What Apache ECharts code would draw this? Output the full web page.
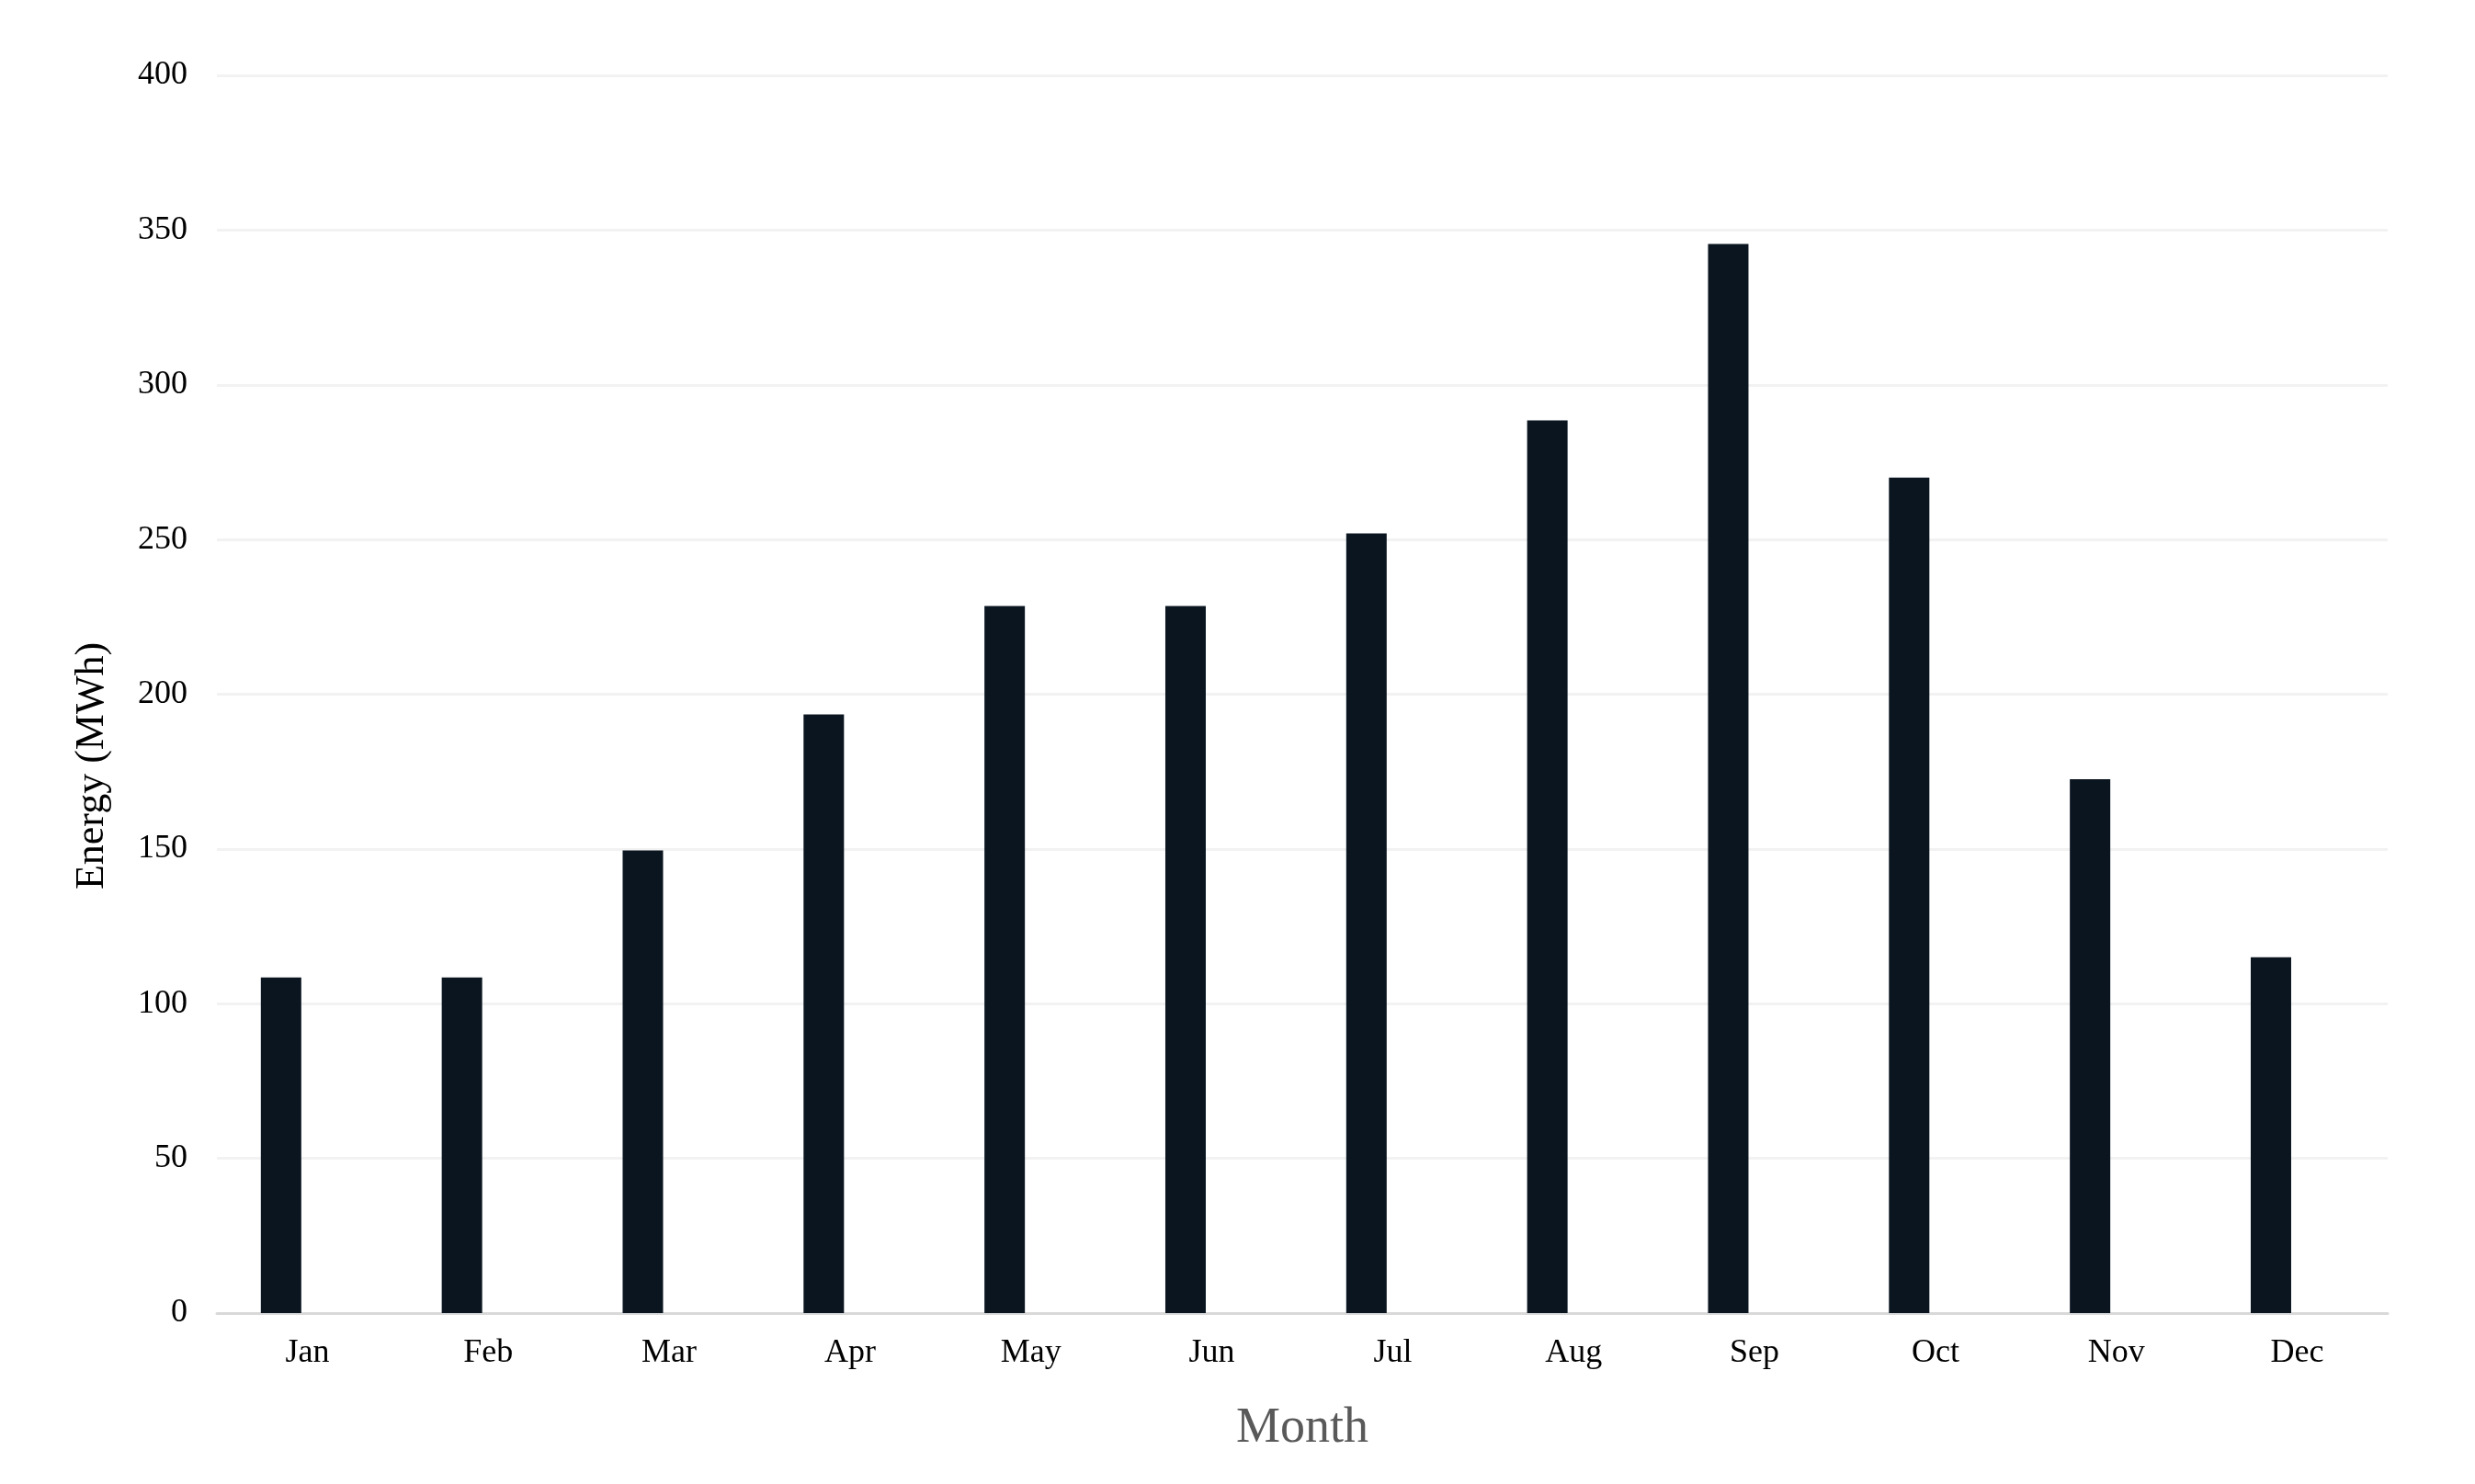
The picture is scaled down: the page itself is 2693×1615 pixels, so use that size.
<!DOCTYPE html>
<html>
<head>
<meta charset="utf-8">
<title>Monthly Energy</title>
<script src="https://cdn.jsdelivr.net/npm/echarts@6/dist/echarts.min.js"></script>
<style>
    html, body { margin: 0; padding: 0; background: #ffffff; }
    #chart { width: 2693px; height: 1615px; }
</style>
</head>
<body>
<div id="chart"></div>
<script>
    const months = ['Jan', 'Feb', 'Mar', 'Apr', 'May', 'Jun', 'Jul', 'Aug', 'Sep', 'Oct', 'Nov', 'Dec']
    const energyValues = [108.5, 108.5, 149.5, 193.5, 228.5, 228.5, 252, 288.5, 345.5, 270, 172.5, 115]
    // the original leaves room for a second (empty) bar in each month
    const spacerValues = []
    const yTicks = { min: 0, max: 400, interval: 50 }

    const fontFamily = '"Liberation Serif", "Times New Roman", serif'
    const chart = echarts.init(document.getElementById('chart'))

    const option = {
        backgroundColor: '#ffffff',
        animation: false,
        grid: {
            left: 236,
            right: 95,
            top: 82,
            bottom: 186
        },
        xAxis: {
            type: 'category',
            data: months,
            name: 'Month',
            nameLocation: 'middle',
            nameGap: 99,
            nameTextStyle: {
                fontFamily,
                fontSize: 54,
                color: '#595959'
            },
            axisTick: { show: false },
            axisLine: {
                lineStyle: { color: '#d9d9d9', width: 3 }
            },
            axisLabel: {
                margin: 26,
                fontFamily,
                fontSize: 36,
                color: '#000000'
            }
        },
        yAxis: {
            type: 'value',
            min: yTicks.min,
            max: yTicks.max,
            interval: yTicks.interval,
            name: 'Energy (MWh)',
            nameLocation: 'middle',
            nameGap: 114,
            nameTextStyle: {
                fontFamily,
                fontSize: 44,
                color: '#000000',
                padding: [0, 156, 0, 0]
            },
            axisLine: { show: false },
            axisTick: { show: false },
            splitLine: {
                lineStyle: { color: '#f2f2f2', width: 3 }
            },
            axisLabel: {
                margin: 32,
                fontFamily,
                fontSize: 36,
                color: '#000000'
            }
        },
        series: [
            {
                name: 'Energy',
                type: 'bar',
                barWidth: 44,
                barGap: '30%',
                itemStyle: { color: '#0a1520' },
                data: energyValues
            },
            {
                name: 'Spacer',
                type: 'bar',
                barWidth: 44,
                itemStyle: { color: '#0a1520' },
                data: spacerValues
            }
        ]
    }

    chart.setOption(option)
</script>
</body>
</html>
